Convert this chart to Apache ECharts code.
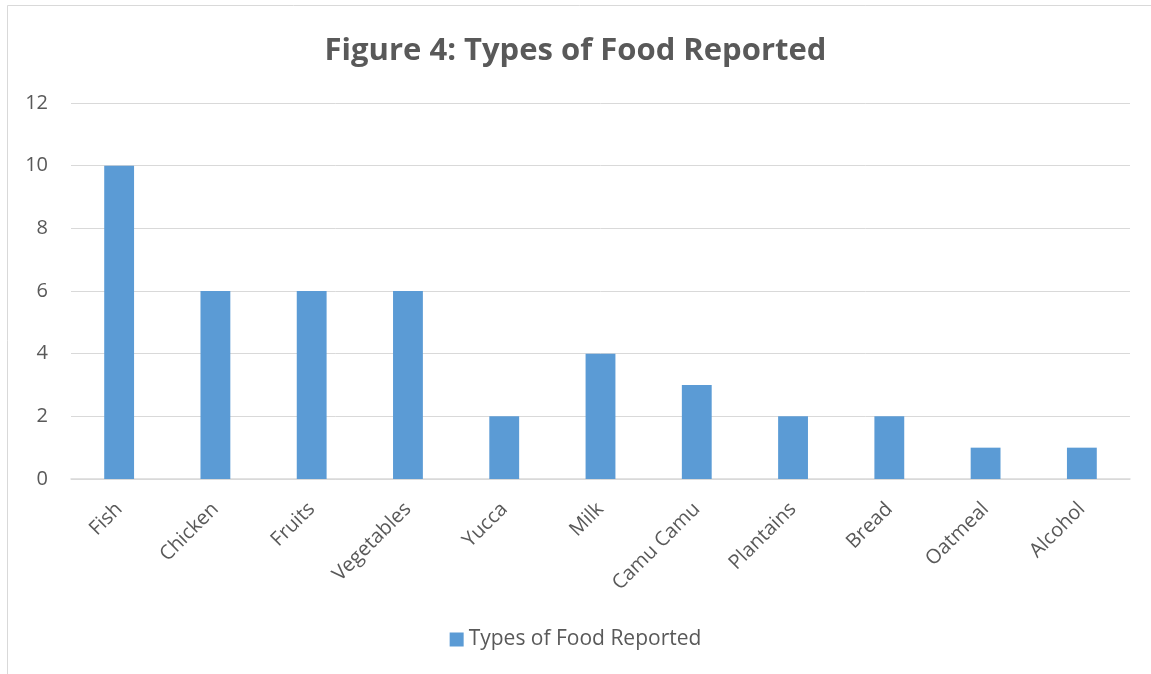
<!DOCTYPE html>
<html>
<head>
<meta charset="utf-8">
<script src="https://cdn.jsdelivr.net/npm/echarts@6/dist/echarts.min.js"></script>
<style>
  html, body { margin: 0; padding: 0; background: #ffffff; }
  #chart { width: 1151px; height: 674px; }
</style>
</head>
<body>
<div id="chart"></div>
<script>
// Food types and how many times each was reported
const categories = ['Fish', 'Chicken', 'Fruits', 'Vegetables', 'Yucca', 'Milk', 'Camu Camu', 'Plantains', 'Bread', 'Oatmeal', 'Alcohol'];
const counts = [10, 6, 6, 6, 2, 4, 3, 2, 2, 1, 1];
const seriesName = 'Types of Food Reported';
const titleText = 'Figure 4: Types of Food Reported';

const textColor = '#595959';
const font = '"Open Sans", "Noto Sans", sans-serif';

const chart = echarts.init(document.getElementById('chart'));
chart.setOption({
  backgroundColor: '#ffffff',
  animation: false,
  graphic: [{
    type: 'rect',
    shape: { x: 7.5, y: 5.5, width: 1160, height: 700 },
    style: { fill: 'none', stroke: '#d9d9d9', lineWidth: 1 },
    silent: true
  }],
  title: {
    text: titleText,
    left: 'center',
    top: 31,
    textStyle: { fontFamily: font, fontSize: 31, fontWeight: 'bold', color: textColor }
  },
  legend: {
    bottom: 19,
    left: 'center',
    itemWidth: 14,
    itemHeight: 14,
    itemGap: 6,
    icon: 'rect',
    textStyle: { fontFamily: font, fontSize: 21, color: textColor },
    data: [seriesName]
  },
  grid: { left: 71, right: 21, top: 103, bottom: 195, containLabel: false },
  xAxis: {
    type: 'category',
    data: categories,
    axisLine: { show: true, lineStyle: { color: '#d9d9d9', width: 1.5 } },
    axisTick: { show: false },
    axisLabel: {
      rotate: 45,
      interval: 0,
      margin: 27,
      fontFamily: font,
      fontSize: 20,
      color: textColor
    }
  },
  yAxis: {
    type: 'value',
    min: 0,
    max: 12,
    interval: 2,
    axisLine: { show: false },
    axisTick: { show: false },
    axisLabel: { fontFamily: font, fontSize: 20, color: textColor, margin: 23 },
    splitLine: { lineStyle: { color: '#d9d9d9', width: 1 } }
  },
  series: [{
    name: seriesName,
    type: 'bar',
    data: counts,
    barWidth: '31%',
    itemStyle: { color: '#5b9bd5' }
  }]
});
</script>
</body>
</html>
